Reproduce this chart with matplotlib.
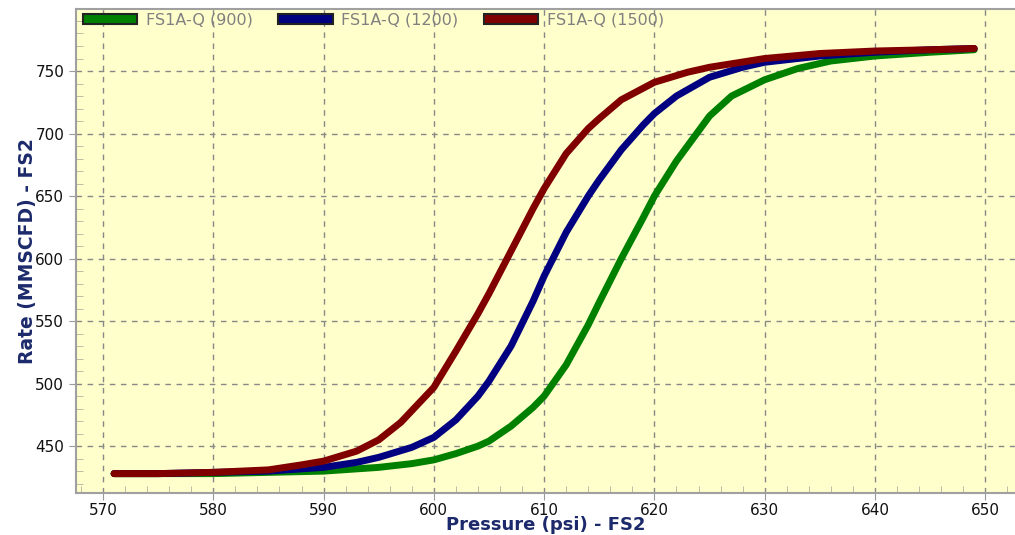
import numpy as np
import matplotlib.pyplot as plt
from matplotlib.patches import Patch
from matplotlib.ticker import MultipleLocator

# Pressure (psi) and rate (MMSCFD)
p_900 = [571, 575, 580, 585, 590, 595, 598, 600, 602, 604, 605, 607, 609, 610,
         612, 614, 615, 617, 619, 620, 622, 624, 625, 627, 630, 633, 636, 640, 645, 649]
q_900 = [428, 428, 428, 429, 430, 433, 436, 439, 444, 450, 454, 466, 481, 490,
         515, 547, 565, 600, 633, 650, 678, 702, 714, 730, 743, 752, 758, 762, 765, 767]

p_1200 = [571, 575, 580, 585, 590, 593, 595, 598, 600, 602, 604, 605, 607, 609, 610,
          612, 614, 615, 617, 619, 620, 622, 625, 628, 630, 635, 640, 645, 649]
q_1200 = [428, 428, 429, 430, 433, 437, 441, 449, 457, 471, 490, 502, 530, 566, 586,
          621, 650, 663, 687, 707, 716, 730, 745, 753, 757, 762, 765, 767, 768]

p_1500 = [571, 575, 580, 585, 588, 590, 593, 595, 597, 600, 602, 604, 605, 607, 609,
          610, 612, 614, 615, 617, 620, 623, 625, 630, 635, 640, 645, 649]
q_1500 = [428, 428, 429, 431, 435, 438, 446, 455, 469, 497, 526, 556, 572, 606, 640,
          656, 684, 704, 712, 727, 741, 749, 753, 760, 764, 766, 767, 768]

labels = ['FS1A-Q (900)', 'FS1A-Q (1200)', 'FS1A-Q (1500)']
colors = ['#008000', '#000080', '#800000']

fig = plt.figure(figsize=(10.15, 5.35), dpi=100)
ax = fig.add_axes([0.0749, 0.0785, 0.9251, 0.9047])
ax.set_facecolor('#ffffcc')

for p, q, c in zip([p_900, p_1200, p_1500], [q_900, q_1200, q_1500], colors):
    ax.plot(p, q, color=c, lw=5, solid_capstyle='round', solid_joinstyle='round')

ax.set_xlim(567.55, 652.7)
ax.set_ylim(412.5, 799.6)
ax.xaxis.set_major_locator(MultipleLocator(10))
ax.xaxis.set_minor_locator(MultipleLocator(2))
ax.yaxis.set_major_locator(MultipleLocator(50))
ax.yaxis.set_minor_locator(MultipleLocator(10))
ax.tick_params(which='major', direction='out', length=5, color='#999999',
               labelsize=11, labelcolor='#111111')
ax.tick_params(which='minor', direction='in', length=5, color='#b0b0a0')
ax.tick_params(axis='x', pad=2)
ax.grid(True, which='major', ls=(0, (4, 4)), color='#888888', lw=1)
for s in ax.spines.values():
    s.set_color('#a0a0a0')
    s.set_linewidth(1.5)
ax.spines['right'].set_visible(False)

ax.set_xlabel('Pressure (psi) - FS2', fontsize=13, fontweight='bold',
              color='#1c2a6b', labelpad=-1)
ax.set_ylabel('Rate (MMSCFD) - FS2', fontsize=13.5, fontweight='bold',
              color='#1c2a6b', labelpad=-1)

handles = [Patch(facecolor=c, edgecolor='#222222', lw=1.5) for c in colors]
leg = ax.legend(handles, labels, loc='upper left', ncol=3, frameon=False,
                bbox_to_anchor=(-0.003, 1.012), handlelength=3.4, handleheight=0.6,
                columnspacing=1.6, handletextpad=0.55, borderaxespad=0.2,
                prop={'size': 11.5})
for t in leg.get_texts():
    t.set_color('#808080')

fig.savefig('out.png', dpi=100)
